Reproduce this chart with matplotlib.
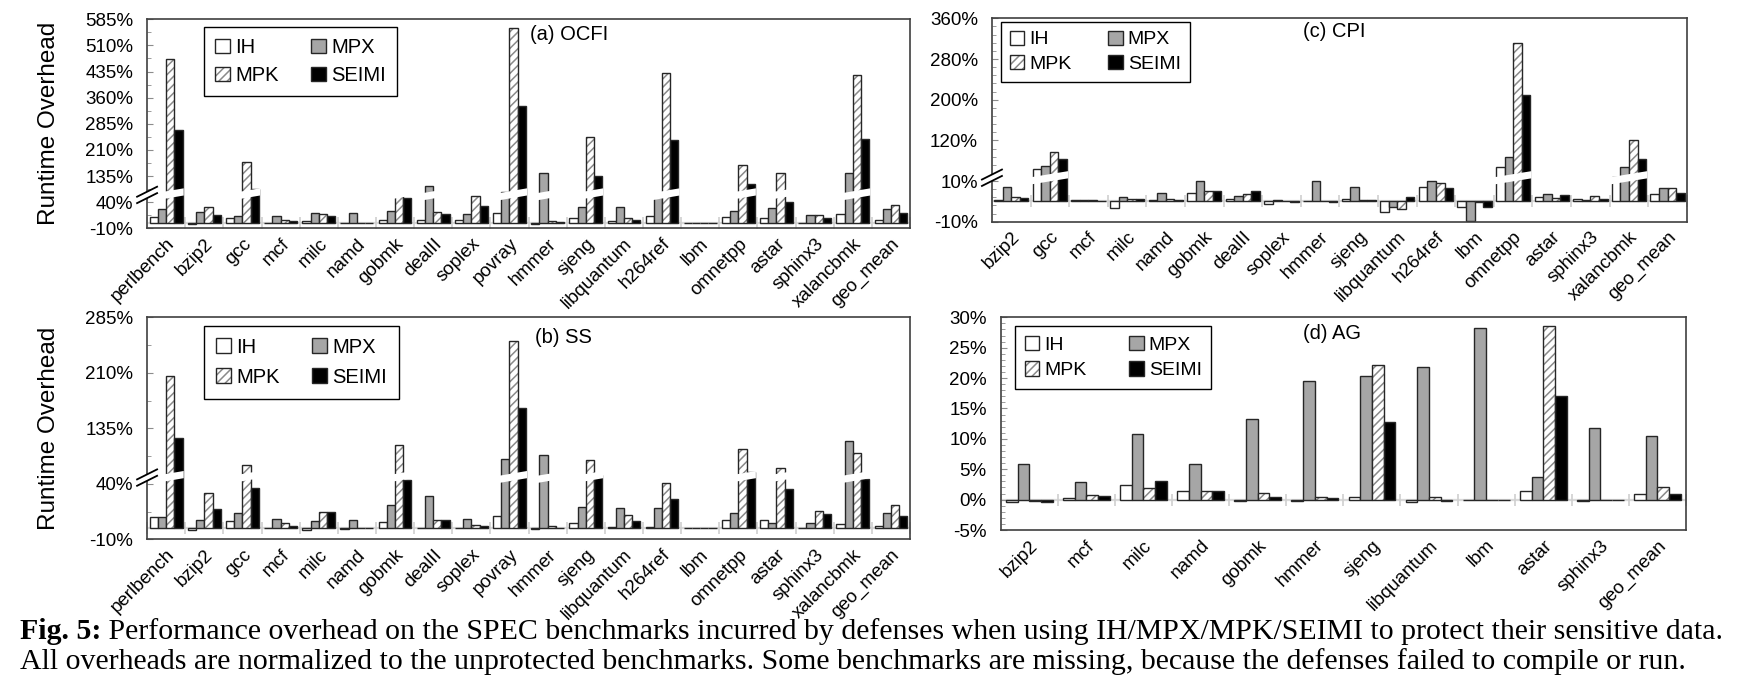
import numpy as np
import matplotlib
matplotlib.use("Agg")
import matplotlib.pyplot as plt
from matplotlib.patches import Polygon
from matplotlib.text import Annotation
from matplotlib.ticker import FixedLocator, FuncFormatter
import matplotlib.transforms as mtransforms

plt.rcParams['font.family'] = ['Liberation Sans', 'DejaVu Sans']
plt.rcParams['hatch.linewidth'] = 1.1

SCHEMES = ["IH", "MPX", "MPK", "SEIMI"]

BENCH_AB = ["perlbench", "bzip2", "gcc", "mcf", "milc", "namd", "gobmk", "dealII",
            "soplex", "povray", "hmmer", "sjeng", "libquantum", "h264ref", "lbm",
            "omnetpp", "astar", "sphinx3", "xalancbmk", "geo_mean"]
BENCH_C = ["bzip2", "gcc", "mcf", "milc", "namd", "gobmk", "dealII", "soplex", "hmmer",
           "sjeng", "libquantum", "h264ref", "lbm", "omnetpp", "astar", "sphinx3",
           "xalancbmk", "geo_mean"]
BENCH_D = ["bzip2", "mcf", "milc", "namd", "gobmk", "hmmer", "sjeng", "libquantum",
           "lbm", "astar", "sphinx3", "geo_mean"]

# (a) OCFI, percent
OCFI_IH = [11, -2, 9, 0, 4, 0, 6, 6, 6, 19, -2, 9, 3, 13.6, 1, 12, 10, 1, 17, 6]
OCFI_MPX = [26, 20.6, 13.6, 14, 20, 20, 23, 105, 18, 90, 143, 31, 31, 50, 0.5, 22.5, 29, 15.5, 143, 27]
OCFI_MPK = [470, 31.5, 175, 5, 17, 0, 87, 21, 52.5, 561, 3, 248, 9, 432, 0, 166, 145, 15.5, 424, 35]
OCFI_SEIMI = [267, 15.5, 97, 3, 14, 0, 47, 17, 33, 336, 2, 136, 6, 238, 0, 112, 41, 10, 242, 19]

# (b) SS
SS_IH = [9.8, -1.5, 6.2, 0, -1.5, -0.7, 6, 0.5, 0, 11, -1, 4.6, 1, 1.2, 0.5, 7.6, 7.3, 0.3, 4, 2.4]
SS_MPX = [10.5, 7, 13.4, 8, 6.6, 7.6, 20.6, 29, 8.6, 93, 99, 18.8, 18, 18, 0.5, 13.7, 5, 4.6, 117.5, 14]
SS_MPK = [206, 32, 86, 4.6, 14.9, 0, 112, 7.5, 3, 253, 2, 92.5, 11.6, 40.4, 0.3, 106.6, 81, 15.8, 101, 20.6]
SS_SEIMI = [121.5, 17.6, 36.5, 2.3, 14.6, 0, 43, 7, 2, 163, 0.5, 72, 6.5, 26, 0, 76, 35, 12.5, 44, 11]

# (c) CPI
CPI_IH = [0.5, 63.6, 0.6, -3.4, 0.5, 4, 1, -1.2, 0, 1, -5.2, 7.2, -3, 68, 2.1, 1, 48, 3.4]
CPI_MPX = [7, 69.6, 0.8, 2, 4, 10, 2.6, 0.5, 10, 7.2, -3, 10.2, -9.8, 88, 3.8, 0.5, 67, 6.4]
CPI_MPK = [2, 97.6, 0.6, 1.3, 1, 5, 3.4, 0, 0, 0.8, -3.6, 8.8, -0.4, 312, 1.6, 2.8, 120, 6.4]
CPI_SEIMI = [1.6, 84, 0.4, 1, 0.5, 5, 5, -0.5, -0.3, 0.8, 2, 6.6, -2.8, 210, 3, 1.1, 82.5, 4.3]

# (d) AG
AG_IH = [-0.4, 0.3, 2.4, 1.5, -0.3, -0.3, 0.5, -0.4, 0, 1.5, -0.2, 1.0]
AG_MPX = [5.8, 2.9, 10.8, 5.8, 13.2, 19.5, 20.3, 21.9, 28.2, 3.7, 11.8, 10.4]
AG_MPK = [-0.3, 0.8, 1.9, 1.5, 1.15, 0.4, 22.2, 0.5, 0, 28.5, 0, 2.1]
AG_SEIMI = [-0.4, 0.55, 3.1, 1.5, 0.5, 0.2, 12.7, -0.2, 0, 17.1, -0.1, 1.0]

EDGE = "#262626"
FIG_W, FIG_H = 1751, 681


def piecewise(vs, us):
    return (lambda v: np.interp(v, vs, us)), (lambda u: np.interp(u, us, vs))


def panel(fig, rect, names, series, ylim, major, minor_u, width, title, title_xy,
          leg_kw, knots=None, ylabel=None):
    ax = fig.add_axes(rect)
    fwd = inv = None
    if knots is not None:
        fwd, inv = piecewise(*knots)
        ax.set_yscale("function", functions=(fwd, inv))
    n = len(names)
    x = np.arange(n)
    ax.axhline(0, color="#d9d9d9", lw=1.6, zorder=1)
    ax.plot(np.arange(n + 1) - 0.5, np.zeros(n + 1), ls="none", marker="|", ms=8,
            mew=1.2, color="#cfcfcf", zorder=1, clip_on=False)
    handles = {}
    for k, (name, vals) in enumerate(zip(SCHEMES, series)):
        pos = x + (k - 1.5) * width
        if name == "MPK":
            hb = ax.bar(pos, vals, width, color="white", edgecolor="#8a8a8a",
                        hatch="////", lw=0, zorder=2)
            ob = ax.bar(pos, vals, width, facecolor="none", edgecolor=EDGE, lw=1, zorder=2.1)
            handles[name] = (hb.patches[0], ob.patches[0])
        else:
            fc = {"IH": "white", "MPX": "#a6a6a6", "SEIMI": "black"}[name]
            b = ax.bar(pos, vals, width, color=fc, edgecolor=EDGE, lw=1, zorder=2)
            handles[name] = b.patches[0]

    ax.set_xlim(-0.5, n - 0.5)
    ax.set_ylim(*ylim)
    ax.yaxis.set_major_locator(FixedLocator(major))
    ax.yaxis.set_major_formatter(FuncFormatter(lambda v, p: f"{v:.0f}%"))
    if inv is not None:
        ax.yaxis.set_minor_locator(FixedLocator(inv(np.array(minor_u))))
    else:
        ax.yaxis.set_minor_locator(FixedLocator(minor_u))
    ax.tick_params(axis="y", which="both", direction="in", color="#8c8c8c",
                   labelsize=13.5, pad=10)
    ax.tick_params(axis="y", which="major", length=4)
    ax.tick_params(axis="y", which="minor", length=3)
    ax.set_xticks(x)
    ax.set_xticklabels(names, rotation=45, ha="right", va="top", rotation_mode="anchor")
    ax.tick_params(axis="x", length=0, labelsize=13.5, pad=5)
    for s in ax.spines.values():
        s.set_color("#404040")
        s.set_linewidth(1.2)

    if knots is not None:
        vs, us = knots
        umax = fwd(ylim[1])
        ub = (us[1] + us[2]) / 2 / umax
        hpx = rect[3] * FIG_H
        wpx = rect[2] * FIG_W
        half = 3.6 / hpx
        rise = 3.0 / hpx
        tr = mtransforms.blended_transform_factory(ax.transData, ax.transAxes)
        for i in range(n):
            if max(s[i] for s in series) > vs[1]:
                x0, x1 = i - 2 * width - 0.03, i + 2 * width + 0.03
                ax.add_patch(Polygon([(x0, ub - half - rise), (x1, ub - half + rise),
                                      (x1, ub + half + rise), (x0, ub + half - rise)],
                                     closed=True, transform=tr, facecolor="white",
                                     edgecolor="none", zorder=3))
        # break mark on the y axis
        dx = 10 / wpx
        dy = 5 / hpx
        gap = 3.2 / hpx
        ax.add_patch(Polygon([(-dx, ub - gap - dy), (dx, ub - gap + dy),
                              (dx, ub + gap + dy), (-dx, ub + gap - dy)],
                             closed=True, transform=ax.transAxes, facecolor="white",
                             edgecolor="none", zorder=5, clip_on=False))
        for off in (-gap, gap):
            ax.plot([-dx, dx], [ub + off - dy, ub + off + dy], transform=ax.transAxes,
                    color="black", lw=1.3, clip_on=False, zorder=6)

    ax.text(title_xy[0], title_xy[1], title, transform=ax.transAxes, fontsize=14.5,
            ha="left", va="center")
    order = ["IH", "MPK", "MPX", "SEIMI"]  # column-major -> rows IH/MPX, MPK/SEIMI
    leg = ax.legend([handles[o] for o in order], order, ncol=2, loc="upper left",
                    frameon=True, fancybox=False, framealpha=1, edgecolor="black",
                    handlelength=0.75, handleheight=0.75, handletextpad=0.25,
                    borderaxespad=0, **leg_kw)
    leg.get_frame().set_linewidth(1.0)
    leg.set_zorder(7)
    if ylabel:
        ax.set_ylabel(ylabel, fontsize=17.5)
        ax.yaxis.set_label_coords(-0.114, 0.5)
    return ax


fig = plt.figure(figsize=(FIG_W / 100, FIG_H / 100), dpi=100)

panel(fig, [0.0840, 0.6648, 0.4357, 0.3069], BENCH_AB,
      [OCFI_IH, OCFI_MPX, OCFI_MPK, OCFI_SEIMI], (-10, 585),
      [-10, 40, 135, 210, 285, 360, 435, 510, 585], np.arange(0.5, 8, 1.0), 0.215,
      "(a) OCFI", (0.502, 0.925),
      dict(bbox_to_anchor=(0.075, 0.963), fontsize=14.5, columnspacing=1.6,
           labelspacing=0.45, borderpad=0.55),
      knots=([-10, 53, 82, 585], [0, 1.26, 1.2933, 8]), ylabel="Runtime Overhead")

panel(fig, [0.0840, 0.2081, 0.4357, 0.3260], BENCH_AB,
      [SS_IH, SS_MPX, SS_MPK, SS_SEIMI], (-10, 285),
      [-10, 40, 135, 210, 285], np.arange(0.5, 4, 1.0), 0.215,
      "(b) SS", (0.508, 0.911),
      dict(bbox_to_anchor=(0.075, 0.962), fontsize=14.5, columnspacing=1.6,
           labelspacing=0.55, borderpad=0.6),
      knots=([-10, 44.5, 70, 285], [0, 1.09, 1.1333, 4]), ylabel="Runtime Overhead")

panel(fig, [0.5665, 0.6744, 0.3969, 0.2987], BENCH_C,
      [CPI_IH, CPI_MPX, CPI_MPK, CPI_SEIMI], (-10, 360),
      [-10, 10, 120, 200, 280, 360],
      [u + f for u in range(5) for f in (0.2, 0.4, 0.6, 0.8)], 0.222,
      "(c) CPI", (0.4475, 0.933),
      dict(bbox_to_anchor=(0.013, 0.983), fontsize=14, columnspacing=1.9,
           labelspacing=0.35, borderpad=0.45),
      knots=([-10, 11.5, 47, 360], [0, 1.075, 1.0875, 5]))

panel(fig, [0.5715, 0.2217, 0.3914, 0.3124], BENCH_D,
      [AG_IH, AG_MPX, AG_MPK, AG_SEIMI], (-5, 30),
      list(range(-5, 31, 5)), [v for v in range(-5, 31) if v % 5], 0.205,
      "(d) AG", (0.441, 0.925),
      dict(bbox_to_anchor=(0.021, 0.959), fontsize=14, columnspacing=2.2,
           labelspacing=0.4, borderpad=0.5))

cap_font = ['Liberation Serif', 'DejaVu Serif']
CAP_SIZE = 21.5
t1 = fig.text(20 / FIG_W, 1 - 645 / FIG_H, "Fig. 5:", family=cap_font, fontsize=CAP_SIZE,
              fontweight="bold", ha="left", va="bottom")
fig.add_artist(Annotation(
    " Performance overhead on the SPEC benchmarks incurred by defenses when using "
    "IH/MPX/MPK/SEIMI to protect their sensitive data.",
    xy=(1, 0), xycoords=t1, va="bottom", ha="left", family=cap_font, fontsize=CAP_SIZE))
fig.text(20 / FIG_W, 1 - 675 / FIG_H,
         "All overheads are normalized to the unprotected benchmarks. Some benchmarks "
         "are missing, because the defenses failed to compile or run.",
         family=cap_font, fontsize=CAP_SIZE, ha="left", va="bottom")

fig.savefig("out.png", dpi=100)
